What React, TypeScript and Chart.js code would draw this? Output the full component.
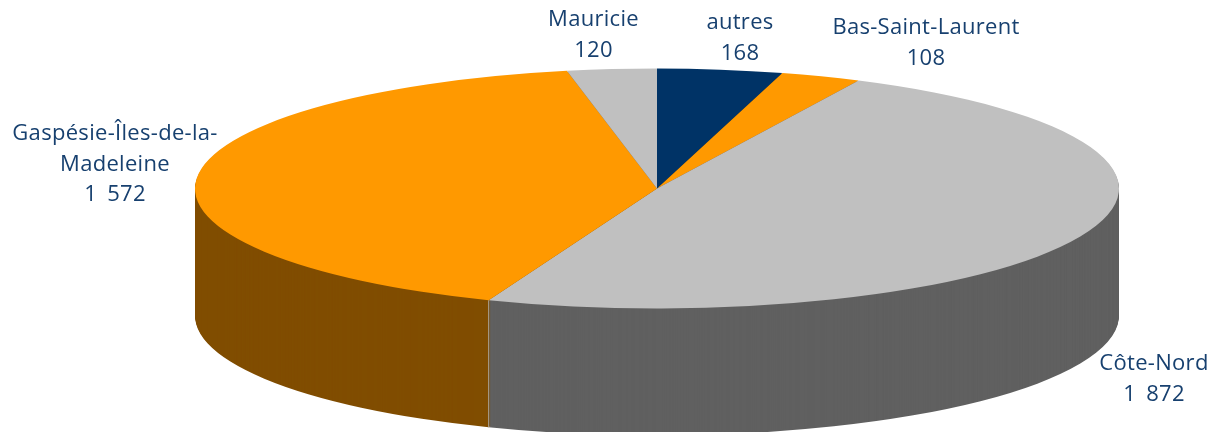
import React, { useEffect, useRef } from "react";
import { Chart, registerables } from "chart.js";

Chart.register(...registerables);

const categories: string[][] = [
  ["autres"],
  ["Bas-Saint-Laurent"],
  ["Côte-Nord"],
  ["Gaspésie-Îles-de-la-", "Madeleine"],
  ["Mauricie"],
];
const values = [168, 108, 1872, 1572, 120];
const topColors = ["#003366", "#FF9900", "#C0C0C0", "#FF9900", "#C0C0C0"];
const wallColors = ["#001A33", "#804D00", "#606060", "#804D00", "#606060"];

const FONT = '22px "Open Sans"';
const TEXT = "#17406F";
const LINE = 30.5;
// centre x, centre y of the first line of each label block
const labelSpots = [
  [740, 23],
  [926, 28],
  [1154, 364],
  [115, 134],
  [593.5, 20],
];
const CX = 657;
const CY = 188.5;
const RX = 462;
const RY = 120;
const DEPTH = 127;

const fmt = (v: number) => String(v).replace(/\B(?=(\d{3})+$)/g, " ");

const tiltPlugin = {
  id: "tilt",
  beforeDatasetsDraw(chart: any) {
    const ctx = chart.ctx;
    const arcs = chart.getDatasetMeta(0).data;
    const a0 = arcs[0];
    const sx = RX / a0.outerRadius;
    const sy = RY / a0.outerRadius;
    for (let d = DEPTH; d >= 1; d--) {
      ctx.save();
      ctx.translate(CX, CY + d);
      ctx.scale(sx, sy);
      ctx.translate(-a0.x, -a0.y);
      arcs.forEach((arc: any, i: number) => {
        const saved = arc.options;
        arc.options = { ...saved, backgroundColor: wallColors[i], borderWidth: 0 };
        arc.draw(ctx);
        arc.options = saved;
      });
      ctx.restore();
    }
    // seam between the two visible wall sections
    const seam = arcs[2].endAngle;
    const x = CX + RX * Math.cos(seam);
    const y = CY + RY * Math.sin(seam);
    ctx.save();
    ctx.strokeStyle = "#A8A090";
    ctx.lineWidth = 1;
    ctx.beginPath();
    ctx.moveTo(x, y);
    ctx.lineTo(x, y + DEPTH);
    ctx.stroke();
    ctx.restore();

    ctx.save();
    ctx.translate(CX, CY);
    ctx.scale(sx, sy);
    ctx.translate(-a0.x, -a0.y);
  },
  afterDatasetsDraw(chart: any) {
    const ctx = chart.ctx;
    ctx.restore();
    ctx.save();
    ctx.font = FONT;
    ctx.fillStyle = TEXT;
    ctx.textAlign = "center";
    ctx.textBaseline = "middle";
    ctx.letterSpacing = "0.3px";
    ctx.wordSpacing = "4px";
    categories.forEach((lines, i) => {
      const [x, y] = labelSpots[i];
      [...lines, fmt(values[i])].forEach((t, j) => ctx.fillText(t, x, y + j * LINE));
    });
    ctx.restore();
  },
};

export default function App() {
  const ref = useRef<HTMLCanvasElement>(null);
  useEffect(() => {
    const chart = new Chart(ref.current!, {
      type: "pie",
      data: {
        labels: categories.map((c) => c.join(" ")),
        datasets: [
          {
            data: values,
            backgroundColor: topColors,
            borderWidth: 0,
            clip: false,
          } as any,
        ],
      },
      options: {
        responsive: false,
        animation: false,
        events: [],
        layout: { padding: 0 },
        plugins: { legend: { display: false }, tooltip: { enabled: false } },
      },
      plugins: [tiltPlugin],
    });
    return () => chart.destroy();
  }, []);
  return (
    <div style={{ position: "absolute", left: 0, top: 0, width: 1217, height: 432, background: "#fff" }}>
      <canvas ref={ref} width={1217} height={432} style={{ display: "block" }} />
    </div>
  );
}
